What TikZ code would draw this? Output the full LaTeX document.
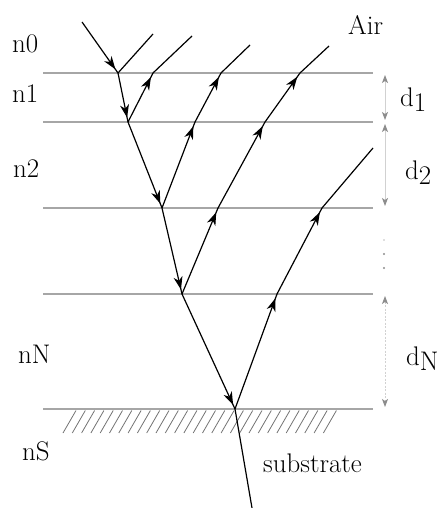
\documentclass[tikz,border=0pt]{standalone}
\usetikzlibrary{arrows.meta,decorations.markings}
\begin{document}
\begin{tikzpicture}[x=1bp,y=-1bp,
  iface/.style={draw=black!35, line width=1.4bp},
  ray/.style={draw=black, line width=1.2bp},
  rayarr/.style={ray, postaction={decorate}, decoration={markings, mark=at position -4.5bp with {\arrow{Stealth[length=13bp,width=9bp,inset=4bp]}}}},
  lbl/.style={anchor=base west, inner sep=0pt, font=\fontsize{27}{30}\selectfont},
  dimtip/.tip={Stealth[length=8bp,width=6bp,inset=2bp,color=black!45]},
  dimline/.style={draw=black!18, line width=0.9bp, dimtip-dimtip},
  hatch/.style={draw=black!55, line width=0.8bp}
]
\useasboundingbox (0,0) rectangle (441,508);

% interfaces
\coordinate (I1a) at (43,73);  \coordinate (I1b) at (373,73);
\coordinate (I2a) at (43,122); \coordinate (I2b) at (373,122);
\coordinate (I3a) at (43,208); \coordinate (I3b) at (373,208);
\coordinate (I4a) at (43,294); \coordinate (I4b) at (373,294);
\coordinate (ISa) at (43,409); \coordinate (ISb) at (373,409);
\foreach \n in {I1,I2,I3,I4,IS} \draw[iface] (\n a) -- (\n b);

% hatching below the substrate line
\foreach \i in {0,...,28} \draw[hatch] ({63+\i*9.3},433) -- ({76+\i*9.3},410.5);

% incident / transmitted ray
\coordinate (A0) at (82,22);
\coordinate (P1) at (118,73);
\coordinate (P2) at (128,122);
\coordinate (P3) at (162,208);
\coordinate (P4) at (182,294);
\coordinate (P5) at (235,409);
\coordinate (E)  at (252,508);
\draw[rayarr] (A0) -- (P1);
\draw[rayarr] (P1) -- (P2);
\draw[rayarr] (P2) -- (P3);
\draw[rayarr] (P3) -- (P4);
\draw[rayarr] (P4) -- (P5);
\draw[ray] (P5) -- (E);

% reflected rays
\coordinate (R1e) at (153,34);
\draw[ray] (P1) -- (R1e);

\coordinate (Q21) at (153,73); \coordinate (R2e) at (192,36);
\draw[rayarr] (P2) -- (Q21);
\draw[ray] (Q21) -- (R2e);

\coordinate (Q31) at (195,122); \coordinate (Q32) at (221,73); \coordinate (R3e) at (250,45);
\draw[rayarr] (P3) -- (Q31);
\draw[rayarr] (Q31) -- (Q32);
\draw[ray] (Q32) -- (R3e);

\coordinate (Q41) at (218,208); \coordinate (Q42) at (265,122); \coordinate (Q43) at (300,73); \coordinate (R4e) at (329,46);
\draw[rayarr] (P4) -- (Q41);
\draw[rayarr] (Q41) -- (Q42);
\draw[rayarr] (Q42) -- (Q43);
\draw[ray] (Q43) -- (R4e);

\coordinate (Q51) at (277,294); \coordinate (Q52) at (322,208); \coordinate (R5e) at (373,148);
\draw[rayarr] (P5) -- (Q51);
\draw[rayarr] (Q51) -- (Q52);
\draw[ray] (Q52) -- (R5e);

% thickness markers
\coordinate (D1t) at (385,75);  \coordinate (D1b) at (385,120);
\coordinate (D2t) at (385,124); \coordinate (D2b) at (385,206);
\coordinate (DNt) at (385,296); \coordinate (DNb) at (385,407);
\draw[dimline] (D1t) -- (D1b);
\draw[dimline] (D2t) -- (D2b);
\draw[dimline, dash pattern=on 2bp off 1.5bp] (DNt) -- (DNb);
\fill[black!25] (384,240) circle (0.9bp);
\fill[black!45] (384,254) circle (1.1bp);
\fill[black!45] (384,268) circle (1.1bp);

% labels
\node[lbl] (n0) at (12,53) {n0};
\node[lbl] (n1) at (12,103) {n1};
\node[lbl] (n2) at (13,178) {n2};
\node[lbl] (nN) at (18,363) {nN};
\node[lbl] (nS) at (22,460) {nS};
\node[lbl] (air) at (348,35) {Air};
\node[lbl] (d1) at (400,107) {d\raisebox{-5bp}{1}};
\node[lbl] (d2) at (405,180) {d\raisebox{-5bp}{2}};
\node[lbl] (dN) at (406,365) {d\raisebox{-5bp}{N}};
\node[lbl] (sub) at (263,472) {substrate};
\end{tikzpicture}
\end{document}
